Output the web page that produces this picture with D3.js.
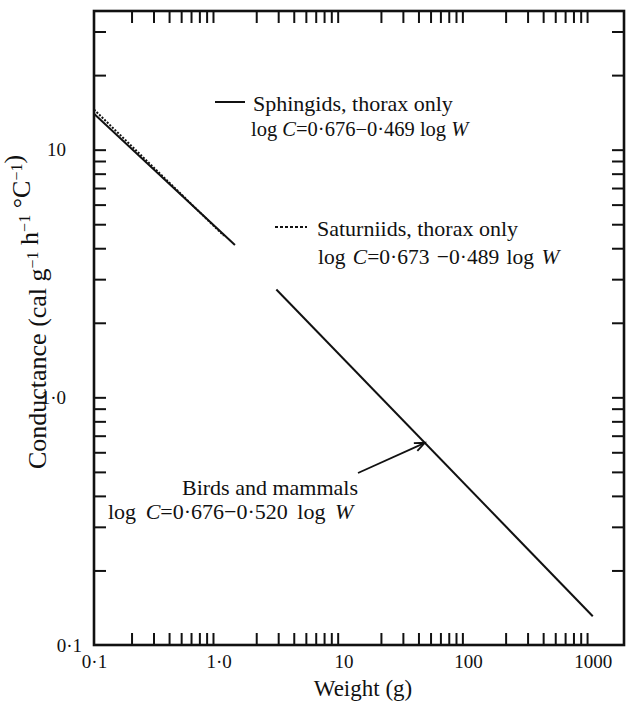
<!DOCTYPE html>
<html>
<head>
<meta charset="utf-8">
<script src="https://cdn.jsdelivr.net/npm/d3@7"></script>
<style>
  html, body { margin: 0; padding: 0; background: #fff; }
</style>
</head>
<body>
<svg id="chart" width="629" height="708"></svg>
<script>
// Regression lines: log C = a + b log W, drawn over the weight range of each group
const groups     = ["Sphingids, thorax only", "Saturniids, thorax only", "Birds and mammals"];
const intercepts = [0.676, 0.673, 0.676];
const slopes     = [-0.469, -0.489, -0.520];
const weightFrom = [0.1, 0.1, 2.9];
const weightTo   = [1.35, 1.1, 1000];
const dashed     = [false, true, false];

// Axis ticks and labels
const xLabelValues = [0.1, 1, 10, 100, 1000];
const xLabels      = ["0·1", "1·0", "10", "100", "1000"];
const xMinorTicks  = [0.2,0.3,0.4,0.5,0.6,0.7,0.8,0.9, 2,3,4,5,6,7,8,9,
                      20,30,40,50,60,70,80,90, 200,300,400,500,600,700,800,900];
const yLabelValues = [0.1, 1, 10];
const yLabels      = ["0·1", "1·0", "10"];
const yTicks       = [0.2,0.3,0.4,0.5,0.6,0.7,0.8,0.9, 1, 2,3,4,5,6,7,8,9, 10, 20, 30];

// Weight at which the annotation arrow meets the birds-and-mammals line
const arrowWeight = 45;

const FONT = '"Liberation Serif"';
const INK = "#111";

const svg = d3.select("#chart");
const plotL = 94, plotR = 624, plotT = 11, plotB = 645;

const x = d3.scaleLog().domain([0.1, 1780]).range([plotL, plotR]);
const y = d3.scaleLog().domain([0.1, 36.3]).range([plotB, plotT]);

const logC = (i, w) => Math.pow(10, intercepts[i] + slopes[i] * Math.log10(w));

// ticks, pointing inward on all four sides
const tick = 12;
svg.append("g").attr("transform", `translate(0,${plotB})`)
  .call(d3.axisBottom(x).tickValues(xMinorTicks).tickSize(-tick).tickFormat(""))
  .call(g => g.select(".domain").remove());
svg.append("g").attr("transform", `translate(0,${plotT})`)
  .call(d3.axisTop(x).tickValues(xMinorTicks).tickSize(-tick).tickFormat(""))
  .call(g => g.select(".domain").remove());
svg.append("g").attr("transform", `translate(${plotL},0)`)
  .call(d3.axisLeft(y).tickValues(yTicks).tickSize(-tick).tickFormat(""))
  .call(g => g.select(".domain").remove());
svg.append("g").attr("transform", `translate(${plotR},0)`)
  .call(d3.axisRight(y).tickValues(yTicks).tickSize(-tick).tickFormat(""))
  .call(g => g.select(".domain").remove());
svg.selectAll(".tick line").attr("stroke", INK).attr("stroke-width", 2);

// frame
svg.append("rect")
  .attr("x", plotL).attr("y", plotT)
  .attr("width", plotR - plotL).attr("height", plotB - plotT)
  .attr("fill", "none").attr("stroke", INK).attr("stroke-width", 2.6);

// tick labels
const xl = svg.append("g").attr("transform", `translate(0,${plotB})`)
  .call(d3.axisBottom(x).tickValues(xLabelValues).tickSize(0).tickPadding(10)
        .tickFormat((d, i) => xLabels[i]));
xl.select(".domain").remove();
xl.selectAll("text").style("font-size", "19px").attr("fill", INK);

const yl = svg.append("g").attr("transform", `translate(${plotL},0)`)
  .call(d3.axisLeft(y).tickValues(yLabelValues).tickSize(0).tickPadding(30)
        .tickFormat((d, i) => yLabels[i]));
yl.select(".domain").remove();
yl.selectAll("text").style("font-size", "19px").attr("fill", INK)
  .attr("x", d => d === 0.1 ? -12 : -28);

// axis titles
svg.append("text")
  .attr("x", 363).attr("y", 688).attr("dy", "0.35em")
  .attr("text-anchor", "middle").style("font-size", "23px").attr("fill", INK)
  .text("Weight (g)");

const yt = svg.append("text")
  .attr("transform", `translate(46,312) rotate(-90)`)
  .attr("text-anchor", "middle").style("font-size", "26px").attr("fill", INK);
const sup = (t) => { yt.append("tspan").attr("dy", -8).style("font-size", "16px").text(t);
                     yt.append("tspan").attr("dy", 8).text(""); };
yt.append("tspan").text("Conductance (cal g");
sup("−1");
yt.append("tspan").text(" h");
sup("−1");
yt.append("tspan").text(" °C");
sup("−1");
yt.append("tspan").text(")");

// regression lines
const line = d3.line().x(d => x(d[0])).y(d => y(d[1]));
groups.forEach((g, i) => {
  const pts = [weightFrom[i], weightTo[i]].map(w => [w, logC(i, w)]);
  svg.append("path")
    .attr("d", line(pts))
    .attr("fill", "none").attr("stroke", INK)
    .attr("stroke-width", 2)
    .attr("stroke-dasharray", dashed[i] ? "2,1.6" : null);
});

// annotations
function equation(sel, a, b, gap) {
  sel.append("tspan").text("log ");
  sel.append("tspan").attr("font-style", "italic").text("C");
  sel.append("tspan").text("=" + a + gap + "−" + b + " log ");
  sel.append("tspan").attr("font-style", "italic").text("W");
  return sel;
}
const fmt = v => Math.abs(v).toFixed(3).replace(".", "·");
const label = (xx, yy, size) => svg.append("text").attr("x", xx).attr("y", yy).attr("dy", "0.35em")
  .style("font-size", size + "px").attr("fill", INK);

// Sphingids
svg.append("line").attr("x1", 215).attr("x2", 245).attr("y1", 102).attr("y2", 102)
  .attr("stroke", INK).attr("stroke-width", 2);
label(253, 103, 22).text(groups[0]);
equation(label(251, 129, 20.5), fmt(intercepts[0]), fmt(slopes[0]), "");

// Saturniids
svg.append("line").attr("x1", 275).attr("x2", 307).attr("y1", 227).attr("y2", 227)
  .attr("stroke", INK).attr("stroke-width", 2).attr("stroke-dasharray", "3,2");
label(317, 228, 22).text(groups[1]);
equation(label(318, 256, 21.5), fmt(intercepts[1]), fmt(slopes[1]), " ")
  .style("word-spacing", "2px");

// Birds and mammals
label(182, 487, 22).text(groups[2]);
equation(label(108, 511, 22), fmt(intercepts[2]), fmt(slopes[2]), "")
  .style("word-spacing", "4px");

// arrow from the label to the birds line
const tipX = x(arrowWeight), tipY = y(logC(2, arrowWeight));
const sx = 358, sy = 473;
const ang = Math.atan2(tipY - sy, tipX - sx);
svg.append("line").attr("x1", sx).attr("y1", sy).attr("x2", tipX).attr("y2", tipY)
  .attr("stroke", INK).attr("stroke-width", 1.8);
const head = 11, spread = 0.4;
svg.append("path")
  .attr("d", `M${tipX - head * Math.cos(ang - spread)},${tipY - head * Math.sin(ang - spread)}
              L${tipX},${tipY}
              L${tipX - head * Math.cos(ang + spread)},${tipY - head * Math.sin(ang + spread)}`)
  .attr("fill", "none").attr("stroke", INK).attr("stroke-width", 1.8);

// every label in the serif face
svg.selectAll("text").style("font-family", FONT);
</script>
</body>
</html>
